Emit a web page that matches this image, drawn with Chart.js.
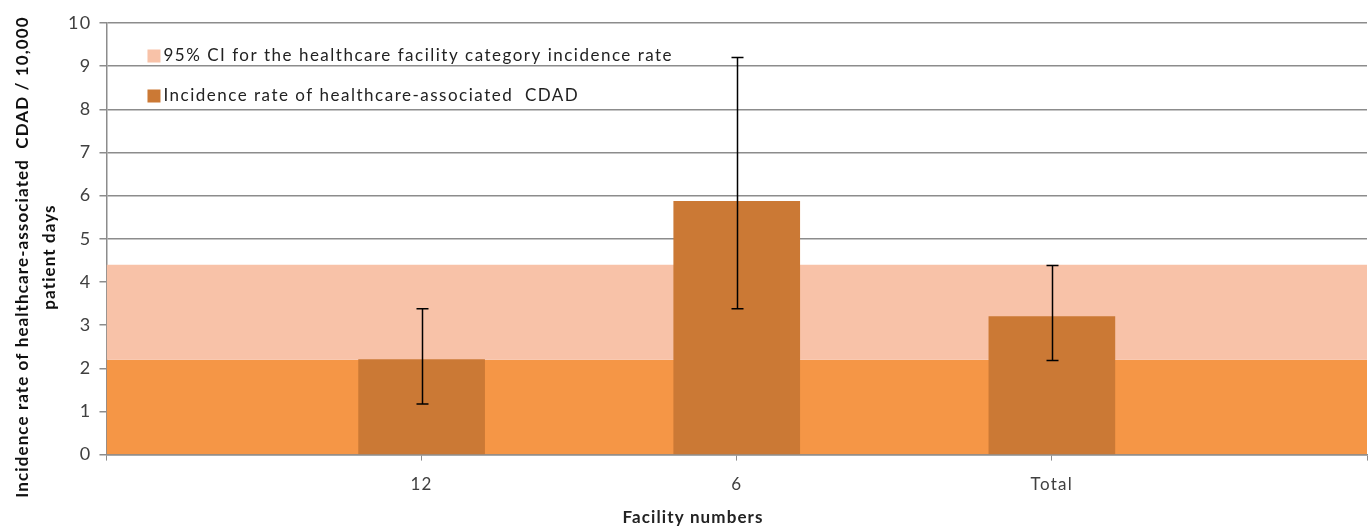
<!DOCTYPE html>
<html>
<head>
<meta charset="utf-8">
<script src="https://cdn.jsdelivr.net/npm/chart.js@4/dist/chart.umd.min.js"></script>
<style>
  html, body { margin: 0; padding: 0; background: #fff; }
  #wrap { width: 1369px; height: 529px; position: relative; }
</style>
</head>
<body>
<div id="wrap"><canvas id="c"></canvas></div>
<script>
// ---- Data ----
const categories = ['', '12', '6', 'Total', ''];
const incidenceRate = [null, 2.2, 5.87, 3.2, null];
const errorLow = [null, 1.17, 3.38, 2.18, null];
const errorHigh = [null, 3.38, 9.2, 4.38, null];
const ciLower = [2.2, 2.2, 2.2, 2.2, 2.2];
const ciUpper = [4.4, 4.4, 4.4, 4.4, 4.4];
const yTicks = [0, 1, 2, 3, 4, 5, 6, 7, 8, 9, 10];

const labelCI = '95% CI for the healthcare facility category incidence rate';
const labelRate = 'Incidence rate of healthcare-associated  CDAD';
const yTitle = ['Incidence rate of healthcare-associated  CDAD / 10,000', 'patient days'];
const xTitle = 'Facility numbers';

const colBar = '#CB7935';
const colLow = '#F59646';
const colCI = '#F8C2A8';
const gridCol = '#8C8C8C';
const textCol = '#404040';
const FONT = 'Lato, "Open Sans", sans-serif';
const SPACING = '1.3px';

const spacingPlugin = {
  id: 'letterSpacing',
  beforeInit(chart) { chart.ctx.letterSpacing = SPACING; },
  beforeUpdate(chart) { chart.ctx.letterSpacing = SPACING; },
  beforeDraw(chart) { chart.ctx.letterSpacing = SPACING; }
};

const errorBarPlugin = {
  id: 'errorBars',
  afterDatasetsDraw(chart) {
    const ctx = chart.ctx;
    const xs = chart.scales.x, ys = chart.scales.y;
    ctx.save();
    ctx.strokeStyle = '#000';
    ctx.lineWidth = 1.5;
    for (let i = 0; i < categories.length; i++) {
      if (errorLow[i] == null || errorHigh[i] == null) continue;
      const x = Math.round(xs.getPixelForValue(i)) + 0.5;
      const y1 = ys.getPixelForValue(errorLow[i]);
      const y2 = ys.getPixelForValue(errorHigh[i]);
      ctx.beginPath();
      ctx.moveTo(x, y1); ctx.lineTo(x, y2);
      ctx.moveTo(x - 6, y1); ctx.lineTo(x + 6, y1);
      ctx.moveTo(x - 6, y2); ctx.lineTo(x + 6, y2);
      ctx.stroke();
    }
    ctx.restore();
  }
};

const legendPlugin = {
  id: 'innerLegend',
  afterDraw(chart) {
    const ctx = chart.ctx;
    const area = chart.chartArea;
    const items = chart.data.datasets
      .filter(d => d.showInLegend)
      .sort((a, b) => a.legendIndex - b.legendIndex);
    ctx.save();
    ctx.letterSpacing = '1.5px';
    ctx.font = '17px ' + FONT;
    ctx.textBaseline = 'middle';
    items.forEach((d, k) => {
      const x = area.left + 41;
      const y = area.top + 33 + k * 40;
      ctx.fillStyle = d.legendColor;
      ctx.fillRect(x, y - 6.5, 13, 13);
      ctx.fillStyle = '#222';
      ctx.fillText(d.label, x + 16, y);
    });
    ctx.restore();
  }
};

const axisTitlePlugin = {
  id: 'axisTitles',
  afterDraw(chart) {
    const ctx = chart.ctx;
    ctx.save();
    ctx.letterSpacing = '1.1px';
    ctx.font = 'bold 17px ' + FONT;
    ctx.fillStyle = '#111';
    ctx.textAlign = 'center';
    ctx.textBaseline = 'middle';
    // y title (rotated)
    ctx.save();
    ctx.translate(23, 257);
    ctx.rotate(-Math.PI / 2);
    ctx.fillText(yTitle[0], 0, 0);
    ctx.fillText(yTitle[1], 0, 27);
    ctx.restore();
    // x title
    ctx.fillStyle = '#222';
    ctx.fillText(xTitle, 693, 518);
    ctx.restore();
  }
};

new Chart(document.getElementById('c'), {
  data: {
    labels: categories,
    datasets: [
      {
        type: 'bar',
        label: labelRate,
        data: incidenceRate,
        backgroundColor: colBar,
        barThickness: 126,
        order: 0,
        showInLegend: true,
        legendColor: colBar,
        legendIndex: 1
      },
      {
        type: 'line',
        label: 'lower',
        data: ciLower,
        borderWidth: 0,
        borderColor: 'rgba(0,0,0,0)',
        pointRadius: 0,
        fill: 'origin',
        backgroundColor: colLow,
        order: 2
      },
      {
        type: 'line',
        label: labelCI,
        data: ciUpper,
        borderWidth: 0,
        borderColor: 'rgba(0,0,0,0)',
        pointRadius: 0,
        fill: '-1',
        backgroundColor: colCI,
        order: 1,
        showInLegend: true,
        legendColor: colCI,
        legendIndex: 0
      }
    ]
  },
  options: {
    responsive: true,
    maintainAspectRatio: false,
    animation: false,
    layout: { padding: { left: 60, right: 2, top: 23, bottom: 20 } },
    plugins: {
      legend: { display: false },
      tooltip: { enabled: false }
    },
    scales: {
      x: {
        type: 'category',
        offset: false,
        afterFit(scale) { scale.paddingLeft = 0; scale.paddingRight = 0; },
        grid: { display: true, offset: false, drawOnChartArea: false, drawTicks: true, tickLength: 6, color: gridCol },
        border: { color: gridCol, width: 1.5 },
        ticks: { color: textCol, font: { family: FONT, size: 17 }, padding: 14, autoSkip: false, maxRotation: 0 },
        title: { display: false }
      },
      y: {
        min: 0,
        max: 10,
        afterBuildTicks(scale) { scale.ticks = yTicks.map(v => ({ value: v })); },
        afterFit(scale) { scale.paddingTop = 0; scale.paddingBottom = 0; },
        grid: { color: gridCol, lineWidth: 1.5, tickLength: 7 },
        border: { color: gridCol, width: 1.5 },
        ticks: { color: textCol, font: { family: FONT, size: 18 }, padding: 8 },
        title: { display: false }
      }
    }
  },
  plugins: [spacingPlugin, errorBarPlugin, legendPlugin, axisTitlePlugin]
});
</script>
</body>
</html>
